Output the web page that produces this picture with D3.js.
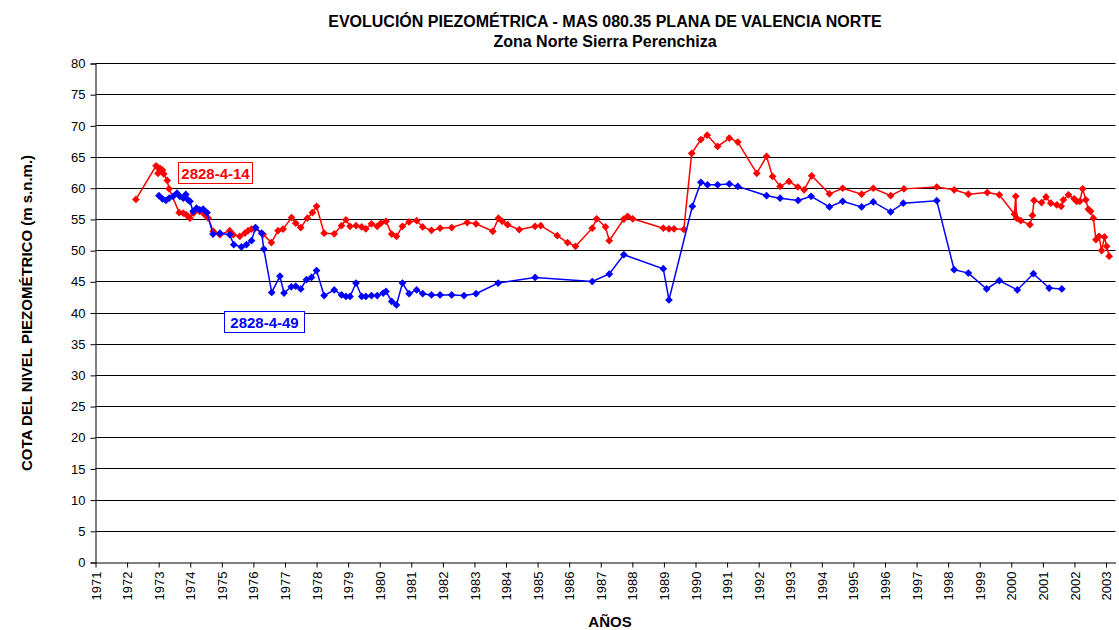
<!DOCTYPE html>
<html>
<head>
<meta charset="utf-8">
<script src="https://cdn.jsdelivr.net/npm/d3@7"></script>
<style>
  body { margin: 0; background: #fff; }
  svg { font-family: "Liberation Sans", Arial, sans-serif; }
</style>
</head>
<body>
<svg id="chart" width="1119" height="630"></svg>
<script>
// Piezometer 2828-4-14 (red)
const redDates = [1972.28, 1972.92, 1972.98, 1973.04, 1973.12, 1973.16, 1973.27, 1973.33, 1973.65, 1973.78,
  1973.88, 1973.99, 1974.1, 1974.3, 1974.45, 1974.57, 1974.73, 1974.94, 1975.25, 1975.36,
  1975.57, 1975.73, 1975.83, 1975.94, 1976.05, 1976.31, 1976.57, 1976.78, 1976.94, 1977.21,
  1977.34, 1977.5, 1977.71, 1977.87, 1978.0, 1978.24, 1978.56, 1978.79, 1978.93, 1979.06,
  1979.25, 1979.43, 1979.56, 1979.74, 1979.92, 1980.04, 1980.2, 1980.38, 1980.53, 1980.72,
  1980.93, 1981.17, 1981.36, 1981.64, 1981.91, 1982.28, 1982.77, 1983.05, 1983.58, 1983.76,
  1983.88, 1984.05, 1984.42, 1984.92, 1985.1, 1985.62, 1985.95, 1986.2, 1986.73, 1986.87,
  1987.15, 1987.27, 1987.73, 1987.85, 1988.01, 1988.98, 1989.16, 1989.32, 1989.63, 1989.88,
  1990.17, 1990.37, 1990.7, 1991.07, 1991.34, 1991.94, 1992.25, 1992.44, 1992.68, 1992.96,
  1993.24, 1993.44, 1993.68, 1994.24, 1994.66, 1995.26, 1995.63, 1996.18, 1996.6, 1997.64,
  1998.19, 1998.64, 1999.24, 1999.62, 2000.1, 2000.14, 2000.17, 2000.3, 2000.59, 2000.67,
  2000.72, 2000.96, 2001.1, 2001.25, 2001.44, 2001.58, 2001.65, 2001.81, 2001.99, 2002.07,
  2002.17, 2002.26, 2002.36, 2002.44, 2002.51, 2002.6, 2002.68, 2002.78, 2002.86, 2002.95,
  2003.02, 2003.1];
const redValues = [58.2, 63.6, 62.4, 63.2, 62.9, 62.3, 61.25, 59.9, 56.1, 56.0,
  55.75, 55.2, 56.0, 56.3, 55.8, 55.2, 53.1, 52.55, 53.2, 52.55,
  52.3, 52.8, 53.2, 53.45, 53.6, 52.6, 51.3, 53.2, 53.45, 55.3,
  54.4, 53.7, 55.2, 56.1, 57.1, 52.8, 52.7, 54.0, 54.95, 53.9,
  54.0, 53.8, 53.5, 54.3, 53.9, 54.4, 54.7, 52.65, 52.3, 53.9,
  54.6, 54.8, 53.8, 53.25, 53.6, 53.7, 54.5, 54.3, 53.1, 55.2,
  54.7, 54.15, 53.35, 53.9, 54.0, 52.4, 51.3, 50.7, 53.6, 55.1,
  53.8, 51.6, 55.05, 55.5, 55.1, 53.6, 53.5, 53.5, 53.4, 65.6,
  67.8, 68.5, 66.7, 68.05, 67.4, 62.4, 65.1, 61.9, 60.3, 61.1,
  60.2, 59.75, 62.0, 59.1, 60.0, 59.05, 60.0, 58.8, 59.9, 60.2,
  59.75, 59.05, 59.3, 58.95, 55.85, 58.7, 55.2, 54.8, 54.15, 55.65,
  58.05, 57.7, 58.6, 57.6, 57.35, 57.1, 58.15, 58.95, 58.3, 57.9,
  57.9, 59.9, 58.15, 56.65, 56.3, 55.2, 51.75, 52.3, 50.0, 52.2,
  50.7, 49.1];

// Piezometer 2828-4-49 (blue)
const blueDates = [1973.01, 1973.12, 1973.23, 1973.33, 1973.46, 1973.58, 1973.67, 1973.78, 1973.86, 1973.93,
  1973.99, 1974.09, 1974.2, 1974.3, 1974.41, 1974.53, 1974.72, 1974.94, 1975.25, 1975.38,
  1975.62, 1975.78, 1975.94, 1976.07, 1976.26, 1976.33, 1976.58, 1976.84, 1976.97, 1977.2,
  1977.34, 1977.5, 1977.68, 1977.84, 1978.0, 1978.24, 1978.56, 1978.79, 1978.93, 1979.06,
  1979.25, 1979.43, 1979.56, 1979.74, 1979.92, 1980.11, 1980.2, 1980.38, 1980.53, 1980.72,
  1980.93, 1981.17, 1981.36, 1981.64, 1981.91, 1982.28, 1982.67, 1983.05, 1983.75, 1984.92,
  1986.73, 1987.27, 1987.73, 1988.98, 1989.16, 1989.9, 1990.17, 1990.38, 1990.7, 1991.07,
  1991.34, 1992.25, 1992.68, 1993.25, 1993.66, 1994.24, 1994.66, 1995.26, 1995.63, 1996.18,
  1996.58, 1997.64, 1998.19, 1998.64, 1999.22, 1999.62, 2000.19, 2000.7, 2001.2, 2001.6];
const blueValues = [58.8, 58.3, 58.05, 58.4, 58.7, 59.2, 58.7, 58.4, 59.0, 58.15,
  57.9, 56.3, 56.8, 56.55, 56.65, 56.1, 52.65, 52.8, 52.55, 50.95,
  50.6, 50.95, 51.6, 53.7, 52.8, 50.25, 43.3, 45.9, 43.2, 44.2,
  44.3, 43.85, 45.35, 45.7, 46.8, 42.8, 43.7, 42.9, 42.65, 42.65,
  44.8, 42.65, 42.65, 42.8, 42.8, 43.2, 43.45, 41.85, 41.3, 44.8,
  43.1, 43.7, 43.1, 42.9, 42.9, 42.9, 42.8, 43.1, 44.8, 45.7,
  45.05, 46.25, 49.35, 47.1, 42.1, 57.1, 60.95, 60.55, 60.55, 60.7,
  60.3, 58.8, 58.4, 58.05, 58.7, 57.0, 57.9, 57.0, 57.8, 56.2,
  57.6, 58.0, 46.95, 46.4, 43.85, 45.2, 43.7, 46.3, 44.0, 43.85];

const yearTicks = d3.range(1971, 2004);
const valueTicks = d3.range(0, 81, 5);

const margin = {top: 63.5, left: 95.5};
const width = 1020, height = 499;

const svg = d3.select("#chart");
const g = svg.append("g")
  .attr("transform", "translate(" + margin.left + "," + margin.top + ")");

const x = d3.scaleLinear().domain([1971, 2003.3]).range([0, width]);
const y = d3.scaleLinear().domain([0, 80]).range([height, 0]);

// horizontal gridlines
g.append("g")
  .selectAll("line")
  .data(valueTicks.filter(v => v > 0))
  .enter()
  .append("line")
  .attr("x1", 0)
  .attr("x2", width)
  .attr("y1", d => Math.round(y(d)))
  .attr("y2", d => Math.round(y(d)))
  .attr("stroke", "#000")
  .attr("stroke-width", 1);

// y axis
const yAxis = g.append("g")
  .call(d3.axisLeft(y).tickValues(valueTicks).tickSize(5).tickPadding(5));
yAxis.selectAll("text").style("font-size", "13px").attr("fill", "#000");
yAxis.select(".domain").attr("stroke", "#000");

// x axis
const xAxis = g.append("g")
  .attr("transform", "translate(0," + height + ")")
  .call(d3.axisBottom(x).tickValues(yearTicks).tickFormat(d3.format("d")).tickSize(5).tickSizeOuter(0));
xAxis.selectAll("text")
  .style("font-size", "13px")
  .attr("fill", "#000")
  .attr("transform", "rotate(-90)")
  .attr("x", -9)
  .attr("y", 0)
  .attr("dy", "0.35em")
  .style("text-anchor", "end");

// series
const series = [
  {name: "2828-4-14", color: "#ff0000", dates: redDates, values: redValues},
  {name: "2828-4-49", color: "#0000ff", dates: blueDates, values: blueValues}
];

const line = d3.line().x(d => x(d[0])).y(d => y(d[1]));
const marker = d3.symbol().type(d3.symbolSquare).size(30);

series.forEach(s => {
  const pts = s.dates.map((d, i) => [d, s.values[i]]);
  g.append("path")
    .datum(pts)
    .attr("fill", "none")
    .attr("stroke", s.color)
    .attr("stroke-width", 1.5)
    .attr("d", line);
  g.append("g")
    .selectAll("path")
    .data(pts)
    .enter()
    .append("path")
    .attr("d", marker)
    .attr("transform", d => "translate(" + x(d[0]) + "," + y(d[1]) + ") rotate(45)")
    .attr("fill", s.color);
});

// series labels
const labels = [
  {text: "2828-4-14", color: "#ff0000", bx: 178.5, by: 162.5, bw: 74, bh: 21},
  {text: "2828-4-49", color: "#0000ff", bx: 224.5, by: 311.5, bw: 80, bh: 21}
];
labels.forEach(l => {
  svg.append("rect")
    .attr("x", l.bx).attr("y", l.by)
    .attr("width", l.bw).attr("height", l.bh)
    .attr("fill", "#fff")
    .attr("stroke", l.color);
  svg.append("text")
    .attr("x", l.bx + l.bw / 2)
    .attr("y", l.by + 16)
    .attr("text-anchor", "middle")
    .attr("fill", l.color)
    .style("font-size", "15px")
    .style("font-weight", "bold")
    .text(l.text);
});

// titles
svg.append("text")
  .attr("x", 605).attr("y", 27)
  .attr("text-anchor", "middle")
  .style("font-size", "16px").style("font-weight", "bold")
  .text("EVOLUCIÓN PIEZOMÉTRICA - MAS 080.35 PLANA DE VALENCIA NORTE");
svg.append("text")
  .attr("x", 605).attr("y", 47)
  .attr("text-anchor", "middle")
  .style("font-size", "16px").style("font-weight", "bold")
  .text("Zona Norte Sierra Perenchiza");

svg.append("text")
  .attr("x", 610).attr("y", 627)
  .attr("text-anchor", "middle")
  .style("font-size", "15px").style("font-weight", "bold")
  .text("AÑOS");

svg.append("text")
  .attr("transform", "translate(32," + (margin.top + height / 2) + ") rotate(-90)")
  .attr("text-anchor", "middle")
  .style("font-size", "15px").style("font-weight", "bold")
  .text("COTA DEL NIVEL PIEZOMÉTRICO (m s.n.m.)");
</script>
</body>
</html>
